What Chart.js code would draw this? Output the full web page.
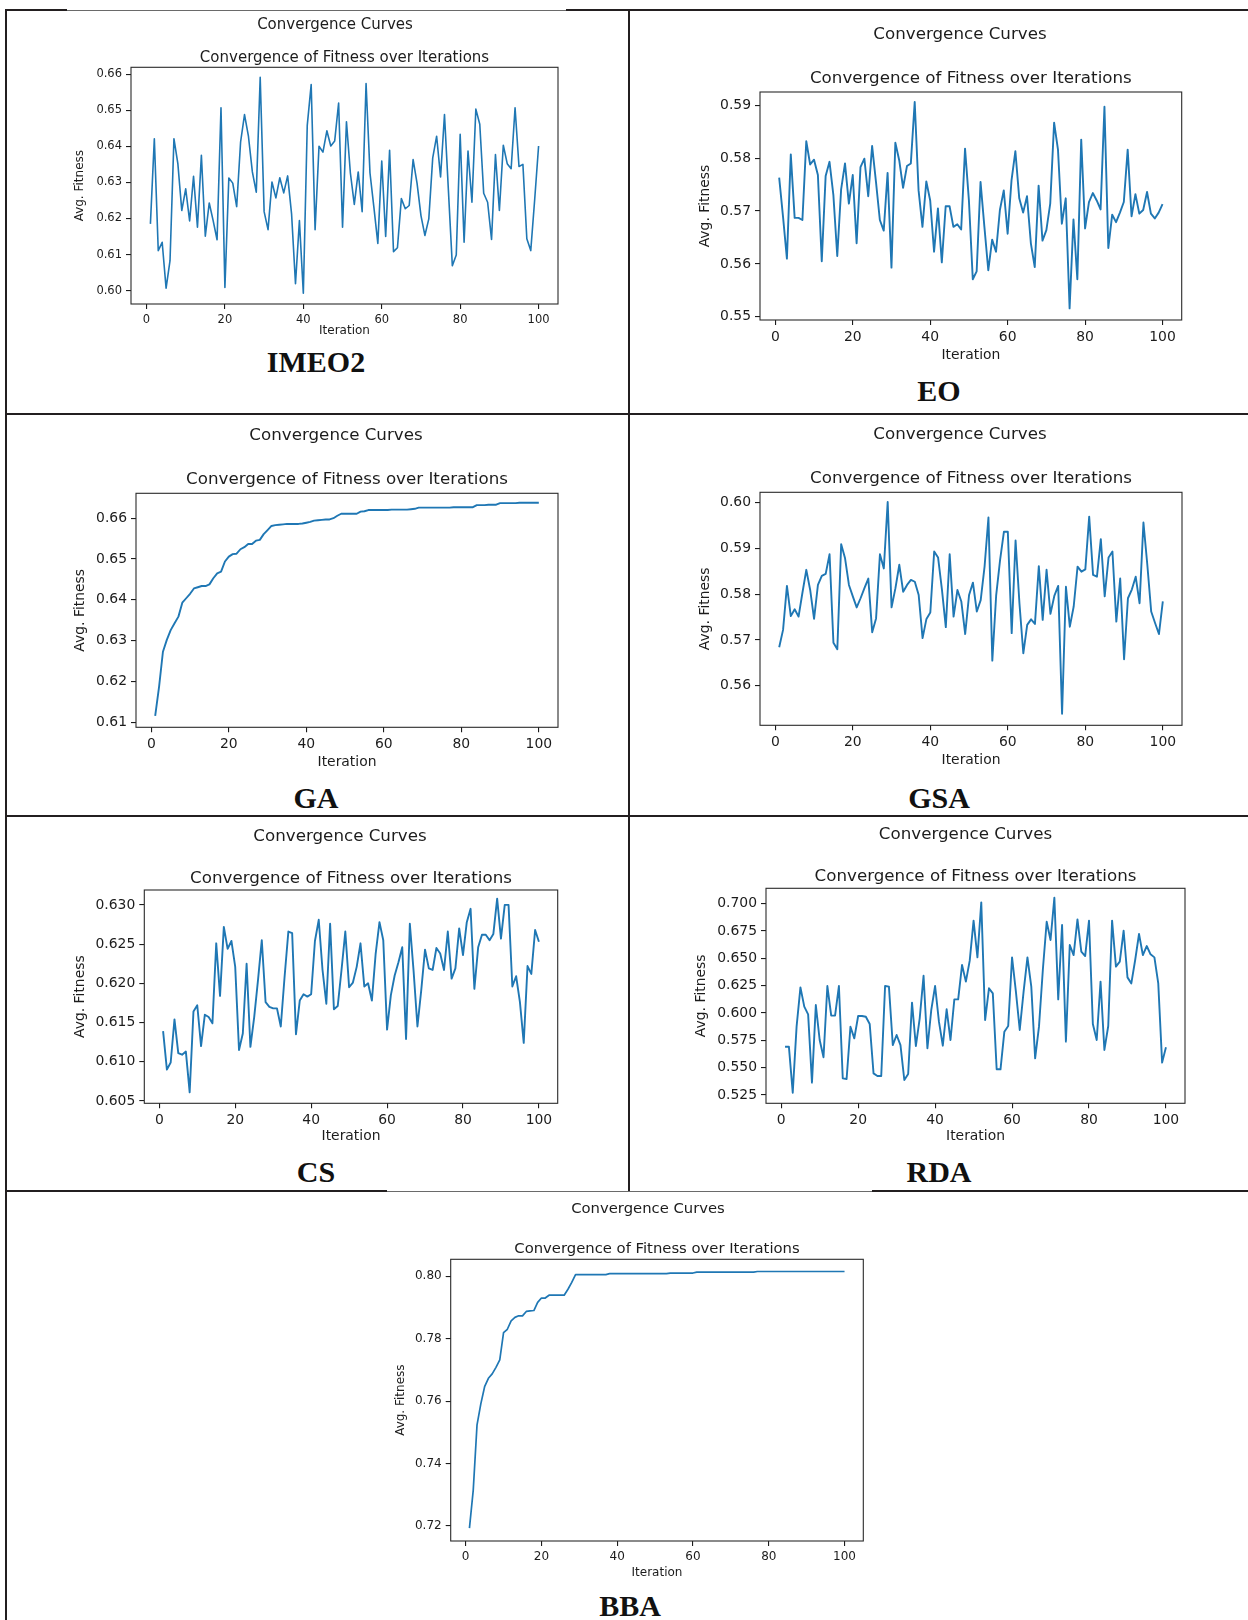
<!DOCTYPE html>
<html>
<head>
<meta charset="utf-8">
<title>Convergence Curves</title>
<script src="https://cdn.jsdelivr.net/npm/chart.js@4.4.1/dist/chart.umd.min.js"></script>
<style>
  html, body { margin: 0; padding: 0; background: #fff; }
  body { position: relative; width: 1248px; height: 1620px; overflow: hidden; font-family: "DejaVu Sans", sans-serif; }
  .rule { position: absolute; background: #231f20; }
  .rule.thin { background: #6a6a6a; }
  canvas { position: absolute; }
  .tag { position: absolute; transform: translate(-50%, -50%); font-family: "Liberation Serif", "Times New Roman", serif; font-weight: bold; font-size: 30px; color: #111; white-space: nowrap; line-height: 1; }
</style>
</head>
<body>
<script>
// ---- data ----
const iterations = Array.from({ length: 100 }, (_, k) => k + 1);
const xTickLabels = ['0', '20', '40', '60', '80', '100'];

const imeo2Fitness = [
  0.6185, 0.6421, 0.6111, 0.6134, 0.6007, 0.6083, 0.6421, 0.6352, 0.6222, 0.6282,
  0.6193, 0.6317, 0.6176, 0.6375, 0.6151, 0.6243, 0.6194, 0.6141, 0.6507, 0.6009,
  0.6312, 0.6298, 0.6233, 0.6412, 0.6488, 0.6428, 0.6329, 0.6273, 0.6591, 0.6219,
  0.6169, 0.6301, 0.6257, 0.6313, 0.6271, 0.6318, 0.6213, 0.6019, 0.6194, 0.5993,
  0.6458, 0.6571, 0.6169, 0.6400, 0.6384, 0.6443, 0.6401, 0.6415, 0.6520, 0.6176,
  0.6468, 0.6326, 0.6239, 0.6329, 0.6219, 0.6574, 0.6326, 0.6231, 0.6131, 0.6359,
  0.6150, 0.6389, 0.6108, 0.6119, 0.6255, 0.6227, 0.6236, 0.6363, 0.6298, 0.6208,
  0.6153, 0.6199, 0.6368, 0.6428, 0.6315, 0.6488, 0.6278, 0.6069, 0.6099, 0.6433,
  0.6134, 0.6387, 0.6245, 0.6503, 0.6461, 0.6270, 0.6245, 0.6142, 0.6377, 0.6222,
  0.6403, 0.6352, 0.6338, 0.6507, 0.6344, 0.6350, 0.6144, 0.6111, 0.6252, 0.6401
];

const eoFitness = [
  0.5763, 0.5689, 0.5610, 0.5807, 0.5687, 0.5687, 0.5683, 0.5832, 0.5788, 0.5797,
  0.5768, 0.5605, 0.5766, 0.5793, 0.5730, 0.5615, 0.5741, 0.5790, 0.5714, 0.5768,
  0.5639, 0.5783, 0.5799, 0.5728, 0.5823, 0.5755, 0.5683, 0.5663, 0.5772, 0.5593,
  0.5829, 0.5796, 0.5744, 0.5785, 0.5790, 0.5906, 0.5739, 0.5670, 0.5756, 0.5720,
  0.5623, 0.5705, 0.5603, 0.5709, 0.5709, 0.5670, 0.5675, 0.5665, 0.5818, 0.5720,
  0.5571, 0.5586, 0.5755, 0.5670, 0.5588, 0.5646, 0.5623, 0.5702, 0.5739, 0.5657,
  0.5758, 0.5813, 0.5724, 0.5697, 0.5728, 0.5639, 0.5594, 0.5748, 0.5644, 0.5664,
  0.5714, 0.5867, 0.5816, 0.5676, 0.5724, 0.5516, 0.5684, 0.5571, 0.5835, 0.5667,
  0.5717, 0.5734, 0.5720, 0.5703, 0.5897, 0.5630, 0.5693, 0.5679, 0.5697, 0.5717,
  0.5816, 0.5690, 0.5732, 0.5695, 0.5702, 0.5736, 0.5695, 0.5686, 0.5697, 0.5713
];

const gaFitness = [
  0.6116, 0.6187, 0.6273, 0.6302, 0.6326, 0.6343, 0.6359, 0.6393, 0.6404, 0.6415,
  0.6428, 0.6431, 0.6434, 0.6434, 0.6438, 0.6453, 0.6465, 0.6469, 0.6494, 0.6506,
  0.6512, 0.6513, 0.6524, 0.6529, 0.6537, 0.6537, 0.6545, 0.6547, 0.6561, 0.6571,
  0.6581, 0.6583, 0.6584, 0.6585, 0.6586, 0.6586, 0.6586, 0.6586, 0.6587, 0.6589,
  0.6591, 0.6594, 0.6595, 0.6596, 0.6597, 0.6597, 0.6600, 0.6606, 0.6611, 0.6611,
  0.6611, 0.6611, 0.6611, 0.6616, 0.6617, 0.6620, 0.6620, 0.6620, 0.6620, 0.6620,
  0.6620, 0.6621, 0.6621, 0.6621, 0.6621, 0.6621, 0.6622, 0.6623, 0.6626, 0.6626,
  0.6626, 0.6626, 0.6626, 0.6626, 0.6626, 0.6626, 0.6626, 0.6627, 0.6627, 0.6627,
  0.6627, 0.6627, 0.6627, 0.6632, 0.6632, 0.6632, 0.6633, 0.6633, 0.6633, 0.6637,
  0.6637, 0.6637, 0.6637, 0.6637, 0.6638, 0.6638, 0.6638, 0.6638, 0.6638, 0.6638
];

const gsaFitness = [
  0.5684, 0.5722, 0.5818, 0.5752, 0.5767, 0.5751, 0.5803, 0.5853, 0.5809, 0.5746,
  0.5820, 0.5840, 0.5844, 0.5887, 0.5694, 0.5680, 0.5909, 0.5878, 0.5820, 0.5795,
  0.5771, 0.5791, 0.5813, 0.5834, 0.5717, 0.5747, 0.5887, 0.5856, 0.6001, 0.5771,
  0.5813, 0.5864, 0.5805, 0.5820, 0.5831, 0.5827, 0.5798, 0.5704, 0.5746, 0.5760,
  0.5893, 0.5880, 0.5810, 0.5728, 0.5887, 0.5751, 0.5809, 0.5784, 0.5713, 0.5798,
  0.5825, 0.5762, 0.5787, 0.5860, 0.5967, 0.5655, 0.5798, 0.5874, 0.5936, 0.5936,
  0.5715, 0.5917, 0.5780, 0.5671, 0.5733, 0.5745, 0.5735, 0.5861, 0.5744, 0.5853,
  0.5757, 0.5796, 0.5818, 0.5539, 0.5816, 0.5729, 0.5773, 0.5860, 0.5849, 0.5854,
  0.5969, 0.5842, 0.5838, 0.5920, 0.5795, 0.5880, 0.5893, 0.5740, 0.5834, 0.5658,
  0.5791, 0.5810, 0.5838, 0.5780, 0.5956, 0.5864, 0.5762, 0.5737, 0.5713, 0.5784
];

const csFitness = [
  0.6139, 0.6090, 0.6099, 0.6154, 0.6111, 0.6109, 0.6113, 0.6061, 0.6164, 0.6172,
  0.6120, 0.6160, 0.6157, 0.6149, 0.6251, 0.6184, 0.6272, 0.6244, 0.6254, 0.6221,
  0.6115, 0.6136, 0.6225, 0.6119, 0.6157, 0.6204, 0.6255, 0.6176, 0.6170, 0.6168,
  0.6168, 0.6145, 0.6208, 0.6266, 0.6264, 0.6135, 0.6178, 0.6186, 0.6183, 0.6186,
  0.6254, 0.6281, 0.6217, 0.6174, 0.6276, 0.6167, 0.6171, 0.6217, 0.6266, 0.6195,
  0.6201, 0.6221, 0.6251, 0.6196, 0.6200, 0.6178, 0.6238, 0.6278, 0.6255, 0.6141,
  0.6185, 0.6210, 0.6227, 0.6246, 0.6129, 0.6276, 0.6215, 0.6145, 0.6191, 0.6243,
  0.6219, 0.6217, 0.6245, 0.6238, 0.6217, 0.6266, 0.6206, 0.6219, 0.6270, 0.6236,
  0.6278, 0.6295, 0.6193, 0.6246, 0.6262, 0.6262, 0.6255, 0.6263, 0.6308, 0.6257,
  0.6300, 0.6300, 0.6196, 0.6209, 0.6176, 0.6124, 0.6222, 0.6212, 0.6268, 0.6253
];

const rdaFitness = [
  0.5692, 0.5692, 0.5271, 0.5875, 0.6235, 0.6058, 0.5988, 0.5363, 0.6073, 0.5753,
  0.5595, 0.6247, 0.5976, 0.5976, 0.6247, 0.5402, 0.5396, 0.5875, 0.5768, 0.5973,
  0.5973, 0.5966, 0.5900, 0.5448, 0.5424, 0.5424, 0.6247, 0.6241, 0.5707, 0.5799,
  0.5707, 0.5387, 0.5442, 0.6095, 0.5698, 0.5951, 0.6341, 0.5677, 0.6027, 0.6247,
  0.5921, 0.5701, 0.6034, 0.5753, 0.6125, 0.6125, 0.6439, 0.6287, 0.6479, 0.6845,
  0.6509, 0.7012, 0.5936, 0.6226, 0.6180, 0.5485, 0.5485, 0.5829, 0.5881, 0.6509,
  0.6195, 0.5845, 0.6195, 0.6509, 0.6241, 0.5585, 0.5875, 0.6393, 0.6835, 0.6668,
  0.7055, 0.6125, 0.6805, 0.5738, 0.6622, 0.6530, 0.6857, 0.6561, 0.6521, 0.6845,
  0.5900, 0.5753, 0.6287, 0.5662, 0.5881, 0.6845, 0.6424, 0.6470, 0.6753, 0.6326,
  0.6271, 0.6485, 0.6723, 0.6530, 0.6613, 0.6537, 0.6509, 0.6271, 0.5546, 0.5686
];

const bbaFitness = [
  0.7193, 0.7315, 0.7524, 0.7591, 0.7646, 0.7673, 0.7687, 0.7708, 0.7732, 0.7819,
  0.7830, 0.7857, 0.7868, 0.7873, 0.7873, 0.7887, 0.7889, 0.7890, 0.7916, 0.7930,
  0.7930, 0.7939, 0.7939, 0.7939, 0.7939, 0.7939, 0.7958, 0.7980, 0.8005, 0.8005,
  0.8005, 0.8005, 0.8005, 0.8005, 0.8005, 0.8005, 0.8005, 0.8008, 0.8008, 0.8008,
  0.8008, 0.8008, 0.8008, 0.8008, 0.8008, 0.8008, 0.8008, 0.8008, 0.8008, 0.8008,
  0.8008, 0.8008, 0.8008, 0.8010, 0.8010, 0.8010, 0.8010, 0.8010, 0.8010, 0.8010,
  0.8013, 0.8013, 0.8013, 0.8013, 0.8013, 0.8013, 0.8013, 0.8013, 0.8013, 0.8013,
  0.8013, 0.8013, 0.8013, 0.8013, 0.8013, 0.8013, 0.8015, 0.8015, 0.8015, 0.8015,
  0.8015, 0.8015, 0.8015, 0.8015, 0.8015, 0.8015, 0.8015, 0.8015, 0.8015, 0.8015,
  0.8015, 0.8015, 0.8015, 0.8015, 0.8015, 0.8015, 0.8015, 0.8015, 0.8015, 0.8015
];

const imeo2Ticks = ['0.60', '0.61', '0.62', '0.63', '0.64', '0.65', '0.66'];
const eoTicks = ['0.55', '0.56', '0.57', '0.58', '0.59'];
const gaTicks = ['0.61', '0.62', '0.63', '0.64', '0.65', '0.66'];
const gsaTicks = ['0.56', '0.57', '0.58', '0.59', '0.60'];
const csTicks = ['0.605', '0.610', '0.615', '0.620', '0.625', '0.630'];
const rdaTicks = ['0.525', '0.550', '0.575', '0.600', '0.625', '0.650', '0.675', '0.700'];
const bbaTicks = ['0.72', '0.74', '0.76', '0.78', '0.80'];

const algorithmNames = ['IMEO2', 'EO', 'GA', 'GSA', 'CS', 'RDA', 'BBA'];
const figureTitle = 'Convergence Curves';
const axesTitle = 'Convergence of Fitness over Iterations';
const xLabel = 'Iteration';
const yLabel = 'Avg. Fitness';

// ---- page layout (pixels) ----
const big = { title: 16.7, tick: 13.9, label: 13.9 };
const titleDrop = 2; // canvas 'middle' baseline sits a little above the glyph centre
const panels = [
  { name: algorithmNames[0], series: imeo2Fitness, ticks: imeo2Ticks, yRange: [0.5963, 0.6619],
    box: [131, 67.3, 558, 304], supX: 335, supY: 23, subY: 56, yTitleX: 80, xTitleY: 331,
    tag: [316, 362], fs: { title: 15, tick: 11.5, label: 12 }, lw: 1.6 },
  { name: algorithmNames[1], series: eoFitness, ticks: eoTicks, yRange: [0.5494, 0.5925],
    box: [760, 92, 1181.7, 320], supX: 960, supY: 33, subY: 77, yTitleX: 705, xTitleY: 355,
    tag: [939, 391], fs: big, lw: 1.9 },
  { name: algorithmNames[2], series: gaFitness, ticks: gaTicks, yRange: [0.6088, 0.6661],
    box: [136, 493.3, 558, 727.3], supX: 336, supY: 434, subY: 478, yTitleX: 80.7, xTitleY: 762,
    tag: [316, 798], fs: big, lw: 1.9 },
  { name: algorithmNames[3], series: gsaFitness, ticks: gsaTicks, yRange: [0.5514, 0.6022],
    box: [760, 492.3, 1182, 725.3], supX: 960, supY: 433, subY: 477, yTitleX: 705, xTitleY: 760,
    tag: [939, 798], fs: big, lw: 1.9 },
  { name: algorithmNames[4], series: csFitness, ticks: csTicks, yRange: [0.6047, 0.6319],
    box: [144.3, 890, 557.7, 1103.3], supX: 340, supY: 835, subY: 877, yTitleX: 80, xTitleY: 1136,
    tag: [316, 1172], fs: big, lw: 1.9 },
  { name: algorithmNames[5], series: rdaFitness, ticks: rdaTicks, yRange: [0.5174, 0.7141],
    box: [766, 888.3, 1185, 1103.3], supX: 965.5, supY: 833, subY: 875, yTitleX: 701.7, xTitleY: 1136,
    tag: [939, 1172], fs: big, lw: 1.9 },
  { name: algorithmNames[6], series: bbaFitness, ticks: bbaTicks, yRange: [0.7152, 0.8054],
    box: [450.7, 1259.3, 863.3, 1541], supX: 648, supY: 1207, subY: 1247, yTitleX: 400.7, xTitleY: 1573,
    tag: [630, 1606], fs: { title: 14.8, tick: 12, label: 12 }, lw: 1.7 }
];

// table rules: [left, top, width, height, thin?]
const rules = [
  [5, 9, 62, 2], [67, 9.5, 499, 1, true], [566, 9, 682, 2],
  [5, 9, 2, 1611],
  [627.5, 9, 2, 1182],
  [5, 412.5, 1243, 2],
  [5, 815, 1243, 2],
  [5, 1190, 382, 2], [387, 1190.5, 485, 1, true], [872, 1190, 376, 2]
];

rules.forEach(([x, y, w, h, thin]) => {
  const d = document.createElement('div');
  d.className = 'rule' + (thin ? ' thin' : '');
  Object.assign(d.style, { left: x + 'px', top: y + 'px', width: w + 'px', height: h + 'px' });
  document.body.appendChild(d);
});

const ink = '#1c1c1c';
const lineBlue = '#1f77b4';

// closed rectangle around each plotting area
const axesFrame = {
  id: 'axesFrame',
  afterDraw(chart) {
    const { ctx, chartArea: a } = chart;
    ctx.save();
    ctx.strokeStyle = '#2a2a2a';
    ctx.lineWidth = 1.1;
    ctx.strokeRect(a.left, a.top, a.right - a.left, a.bottom - a.top);
    ctx.restore();
  }
};

function makePanel(p) {
  const [l, t, r, b] = p.box;
  const supY = p.supY + titleDrop;
  const subY = p.subY + titleDrop;
  const lhT = p.fs.title * 1.2;
  const lhL = p.fs.label * 1.2;
  const cLeft = Math.floor(p.yTitleX - lhL / 2);
  const cTop = Math.floor(supY - lhT / 2);
  const cRight = Math.ceil(2 * p.supX - cLeft);
  const W = cRight - cLeft;
  const H = Math.ceil(p.xTitleY + lhL / 2 + 2 - cTop);

  const supTopPad = supY - lhT / 2 - cTop;
  const supGap = (subY - lhT / 2) - (supY + lhT / 2);
  const subBottomPad = Math.max(0, t - (subY + lhT / 2));
  const yAxisW = l - cLeft;
  const rightW = cRight - r;
  const xAxisH = cTop + H - b;
  const yTitlePad = p.yTitleX - cLeft - lhL / 2;
  const xTitlePad = cTop + H - p.xTitleY - lhL / 2;

  const canvas = document.createElement('canvas');
  canvas.width = W;
  canvas.height = H;
  canvas.style.left = cLeft + 'px';
  canvas.style.top = cTop + 'px';
  canvas.style.width = W + 'px';
  canvas.style.height = H + 'px';
  document.body.appendChild(canvas);

  const fam = '"DejaVu Sans", sans-serif';
  const tickValues = p.ticks.map(Number);
  const tickText = new Map(p.ticks.map(s => [Number(s), s]));

  new Chart(canvas, {
    type: 'line',
    data: {
      datasets: [{
        data: p.series.map((y, k) => ({ x: iterations[k], y })),
        borderColor: lineBlue,
        borderWidth: p.lw,
        borderJoinStyle: 'round',
        pointRadius: 0,
        fill: false,
        tension: 0
      }]
    },
    options: {
      responsive: false,
      animation: false,
      devicePixelRatio: 1,
      layout: { padding: 0 },
      plugins: {
        legend: { display: false },
        tooltip: { enabled: false },
        title: {
          display: true, text: figureTitle, color: ink, fullSize: true,
          font: { family: fam, size: p.fs.title, weight: 'normal', lineHeight: 1.2 },
          padding: { top: supTopPad, bottom: supGap }
        },
        subtitle: {
          display: true, text: axesTitle, color: ink, fullSize: false,
          font: { family: fam, size: p.fs.title, weight: 'normal', lineHeight: 1.2 },
          padding: { top: 0, bottom: subBottomPad }
        }
      },
      scales: {
        x: {
          type: 'linear', min: -3.95, max: 104.95, bounds: 'data',
          afterBuildTicks: s => { s.ticks = xTickLabels.map(v => ({ value: Number(v) })); },
          afterFit: s => { s.height = xAxisH; },
          grid: { drawOnChartArea: false, drawTicks: true, tickLength: 5, color: ink, lineWidth: 1.1 },
          border: { display: false },
          ticks: { color: ink, padding: 4, autoSkip: false, maxRotation: 0,
                   font: { family: fam, size: p.fs.tick }, callback: v => String(v) },
          title: { display: true, text: xLabel, color: ink,
                   font: { family: fam, size: p.fs.label, lineHeight: 1.2 },
                   padding: { top: 0, bottom: xTitlePad } }
        },
        y: {
          type: 'linear', position: 'left', min: p.yRange[0], max: p.yRange[1], bounds: 'data',
          afterBuildTicks: s => { s.ticks = tickValues.map(v => ({ value: v })); },
          afterFit: s => { s.width = yAxisW; },
          grid: { drawOnChartArea: false, drawTicks: true, tickLength: 5, color: ink, lineWidth: 1.1 },
          border: { display: false },
          ticks: { color: ink, padding: 4, autoSkip: false,
                   font: { family: fam, size: p.fs.tick },
                   callback: v => tickText.get(v) ?? '' },
          title: { display: true, text: yLabel, color: ink,
                   font: { family: fam, size: p.fs.label, lineHeight: 1.2 },
                   padding: { top: yTitlePad, bottom: 0 } }
        },
        spacer: {
          type: 'linear', position: 'right', display: true,
          afterFit: s => { s.width = rightW; },
          grid: { display: false },
          border: { display: false },
          ticks: { display: false },
          title: { display: false }
        }
      }
    },
    plugins: [axesFrame]
  });

  const tag = document.createElement('div');
  tag.className = 'tag';
  tag.textContent = p.name;
  tag.style.left = p.tag[0] + 'px';
  tag.style.top = p.tag[1] + 'px';
  document.body.appendChild(tag);
}

panels.forEach(makePanel);
</script>
</body>
</html>
